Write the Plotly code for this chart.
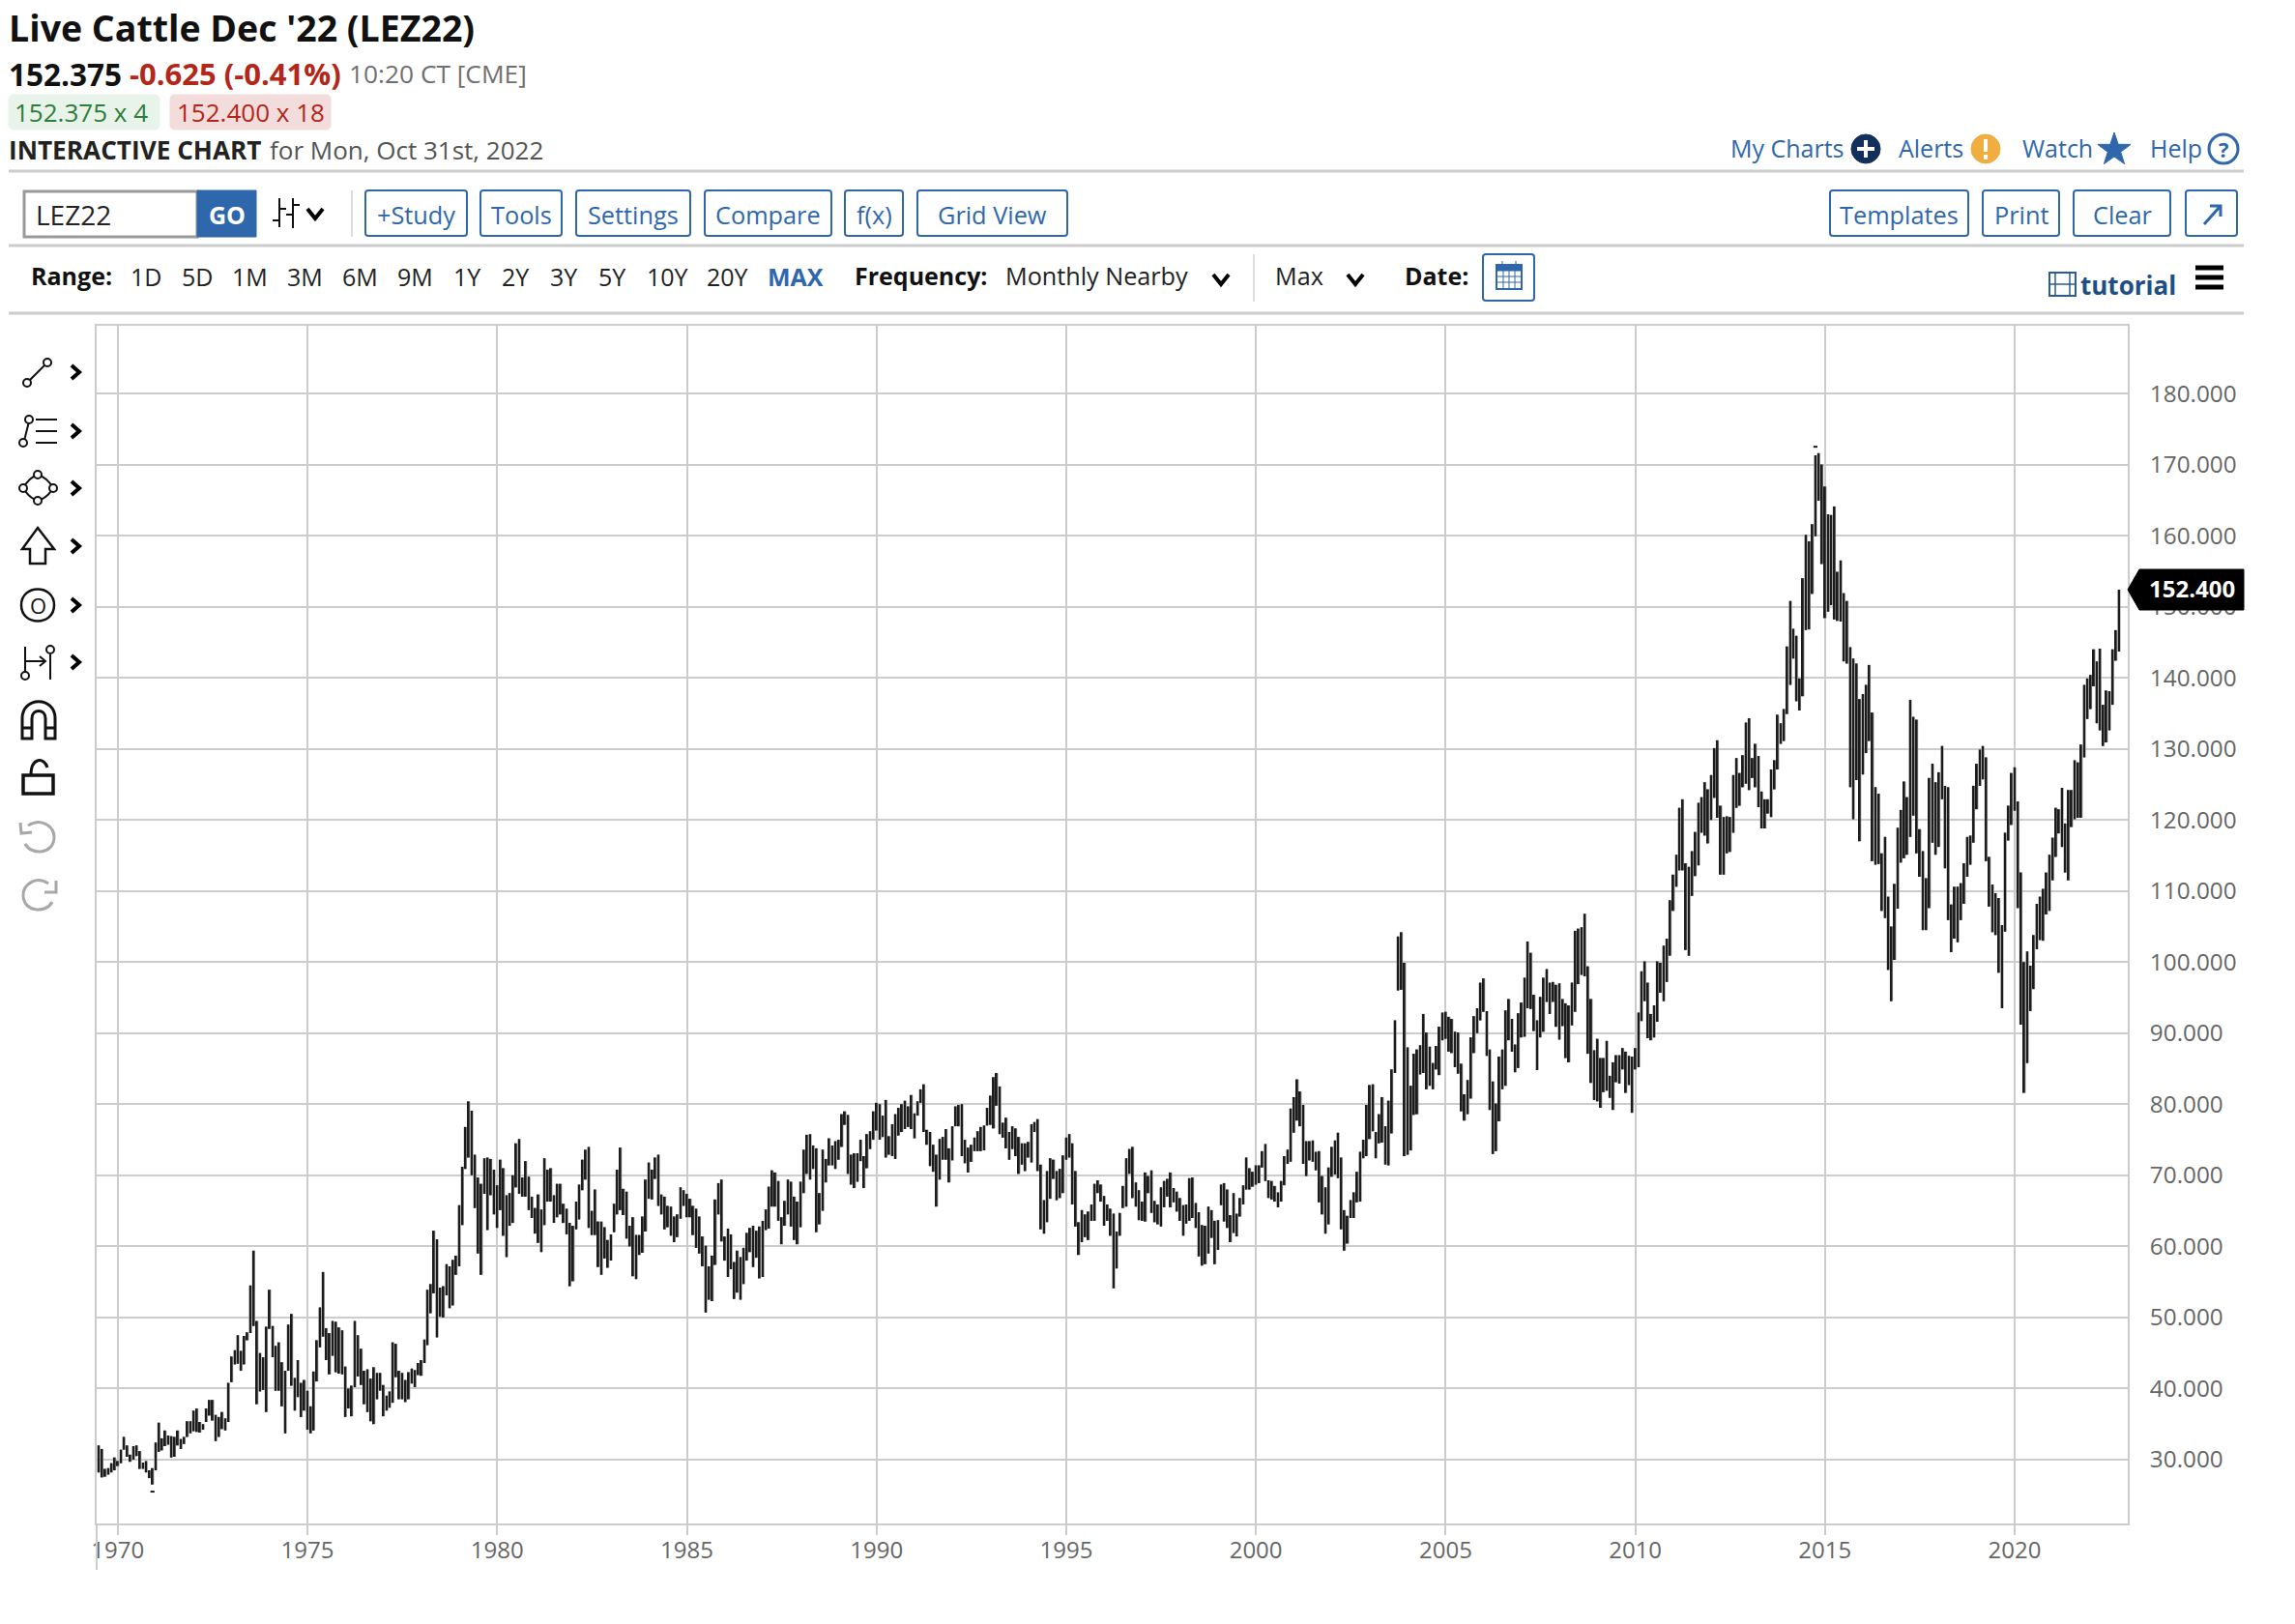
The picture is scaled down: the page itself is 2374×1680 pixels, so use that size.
"""Live Cattle monthly nearby chart with the barchart style page chrome around it."""

import math

import pandas as pd
import plotly.graph_objects as go

# === data (monthly high / low) ===
START_MONTH = '1969-07-01'

HIGHS = [
    32, 31.5, 28.7, 28.8, 29.5, 30.3, 29.8, 31.4, 33.2, 32, 30.7, 31.9,
    32, 31.2, 29.6, 29.8, 28.5, 28.8, 32.4, 35.2, 33, 34.1, 33.4, 33.3,
    33.2, 34.1, 32.9, 33.2, 35.4, 35.4, 36.9, 37.2, 35.3, 35, 37.2, 38.4,
    38.4, 36.3, 36, 36.7, 35.8, 40.8, 44.5, 45.4, 47.5, 45.3, 47.4, 47.9,
    54.5, 59.4, 49.5, 45, 44.4, 48.7, 53.9, 48.8, 46, 46.5, 43.7, 42.5,
    49, 50.5, 41.5, 44, 40.8, 41.2, 39.7, 37.5, 42.4, 46.8, 51.4, 56.4,
    48.5, 47.8, 49.5, 49.4, 48.6, 48.2, 43.1, 40, 40.4, 49.5, 47.5, 45.6,
    42.5, 42.7, 41.4, 43, 42.2, 42.2, 40.5, 39, 39.6, 46.5, 46.3, 42.5,
    42.2, 41.2, 42.3, 42.8, 42.6, 43.6, 44, 46.9, 53.9, 54.7, 62.2, 61,
    54.2, 54.4, 57.5, 57.2, 58.1, 58.7,
    65.8, 71.2, 76.8, 80.4, 79.1,
    72.9, 69.7, 68.8, 72.4, 72.5, 72.3, 70.8, 68.6, 72.2, 71, 67.2, 67.5,
    70, 74.5, 75.1, 69.7, 72, 69.8, 67, 65.4, 67.3, 65.2, 72.4, 70.8,
    71, 67.2, 68.8, 68.8, 66, 65.3, 63.3, 62.9, 66.3, 68.7, 72.2, 73.6,
    74, 65, 68, 63.5, 63.5, 62.7, 60.9, 61.7, 66, 70.8, 73.9, 68.1,
    67.7, 62.9, 64.1, 61.6, 61.6, 64.2, 69.4, 71.8, 70.8, 72.5, 72.9, 67.3,
    67, 65.7, 65.6, 64.2, 64.5, 68.3, 67.9, 67.4, 66.7, 65.7, 65.3, 64.2,
    61.4, 60.1, 57.2, 58.7, 66.6, 68.9, 69.4, 61.4, 62.5, 61.7, 57.8, 59.4,
    58.5, 59.8, 61.9, 62.6, 62.9,
    62.2, 62.8, 63.6, 65.2, 68.4, 70.7, 70.4, 69.2, 64.1, 66.4, 69.4, 69.1,
    67, 66.3, 69.1, 73.6, 75.7, 75.8, 74.2, 73.8, 67.5, 73.6, 72.3, 75.2,
    74.2, 74.8, 75, 78.6, 79, 78.5, 72.9, 73.1, 73.1, 75, 72.7, 75.8,
    76.2, 79, 80.2, 80, 78.4, 80.6, 75.5, 77.2, 78.6, 79.5, 80, 80.5,
    79.7, 81.3, 78.7, 80.4, 82.1, 82.8, 76.4, 76.1, 74.3, 72.9, 75.1, 75.4,
    76.5, 73.8, 76.9, 79.7, 79.9, 80, 75, 73.9, 74.3, 75.3, 76.2, 76.8,
    77, 79.5, 81.2, 83.8, 84.4, 82.5, 77.4, 78.1, 76.1, 76.9, 76.6, 75.4,
    74.5, 74.5, 74.7, 77.2, 77.5, 77.9, 71.5, 66.5, 70.6, 72.4, 72.2, 70.6,
    70.9, 72.8, 75.3, 75.8, 74.5, 70.6, 63.4, 65.1, 64.5, 64.9, 65.9, 68.8,
    69.3, 68.7, 67.1, 65.9, 65.3, 64.6, 62.1, 64.7, 68.5, 72.4, 73.7, 74,
    69, 67.9, 66.3, 70.4, 69.9, 70.7, 66.4, 65.9,
    68.3, 69.2, 69.5, 70.4, 68.2, 67.7, 66.8, 65.8, 65.9, 69.6, 69.7, 66.1,
    64.8, 63, 62.9, 65.6, 65.1, 63.6, 63.7, 68.7, 68.9, 68, 64.4, 67.5,
    64.6, 66.8, 68.6, 72.5, 71, 70.5, 71.4, 71.4, 73.4, 74.4, 69.3, 69.2,
    68.5, 67.6, 69.2, 72.7, 73.6, 79.4, 81, 83.5, 81.8, 79.9, 74.8, 74.8,
    74.9, 73.3, 73.4, 69.9, 68.3, 71.1, 74, 74.9, 76, 72.5, 65.1, 64.3,
    66.5, 67.6, 70.5, 73.3, 75, 79.9, 82.7, 82.8, 76.1, 78.6, 81, 76.9,
    80.5, 84.9,
    91.8, 103.6, 104.2, 99.9, 88, 82.6, 87.1, 87.7, 88.3, 92.7, 90.1, 88.1,
    85.8, 88.2, 90.9, 92.9, 93, 92.3, 92, 90.2, 90.1, 85.7, 81.4, 83.4,
    89.4, 92.4, 93.5, 97.1, 97.7, 93.1, 87.7, 83.2, 80.1, 86.7, 87.7, 93.2,
    94.8, 92, 88.4, 92.8, 94.3, 97.8, 102.9, 101.3, 95.4, 91.8, 95.1, 97.8,
    99, 97.1, 97.2, 96.8, 97, 94.8, 94.2, 93.9, 97.1, 104.4, 104.7, 104.9,
    106.8, 99.4, 94.8, 87.6, 89.2, 86.5, 86.5, 88.9, 84, 85.9, 86.9, 86.9,
    87.9, 87.4, 86.8, 86.7, 87.9, 92.9, 98.7, 100.1, 97.1, 92.7, 93.9, 100.1,
    99.9, 102.3, 103.3, 108.7,
    112.3, 115.1, 121.7, 122.9, 113.9, 113.4, 115.6, 118.3, 122.4, 123.2, 125.3, 124.3,
    126.3, 130.1, 131.2, 122, 120.4, 120.5, 120.4, 126.3, 128.7, 126.6, 129.1, 133.7,
    134.3, 128.7, 130.7, 129, 124, 122.9, 122.9, 127.1, 128.4, 134.8, 133.6, 135.6,
    144.4, 150.8, 146.9, 145.9, 139.9, 154, 160.1, 159.2, 161.6, 171.3, 171.6, 170,
    166.9, 163, 162.9, 164.1, 154.9, 156.5, 151.9, 150.8, 144.3, 142.7, 142, 137,
    137.7, 139, 141.8, 135.1, 124.6, 123.7, 115.3, 117.6, 109.2, 105, 111, 118.9,
    121.4, 125.4, 123.2, 136.9, 134.5, 134.1, 118.7, 115.6, 111.8, 125.9, 127.9, 125.3,
    126.7, 130.4, 124.8, 124.6, 108.1, 110.6, 110.6, 111.1, 113.9, 117.6, 117.8, 124.8,
    127.9, 129.9, 130.4, 128.8, 114.8, 110.9, 109.7, 109, 105.2, 118.2, 122, 126.6,
    127.4, 122.6, 112.6, 100, 101.5, 99.5, 103.8, 108.2, 109.2, 110.3, 112.6, 115.1,
    117.5, 121.7, 121.5, 124.5, 119.5, 124.2, 124.2, 128.4, 128.1, 130.6, 139, 139.9,
    140.4, 144, 142.3, 144.1, 136.2, 138.2, 138.1, 144, 146.7, 152.4,
]

LOWS = [
    28.2, 27.5, 27.6, 27.9, 28.2, 28.5, 29.1, 29.5, 31.4, 30.4, 29.7, 30,
    30.5, 28.7, 28.7, 28.2, 27.4, 26.5, 28.5, 31.1, 31.3, 31.9, 32.1, 30.3,
    30.4, 32, 31.5, 32.2, 33.2, 33.7, 34, 33.9, 33.8, 34.2, 35.3, 36.2,
    35.5, 32.6, 33.2, 34.3, 34.1, 35.3, 40.9, 43.4, 43.5, 42.5, 43.4, 46.8,
    47.8, 48.8, 37.8, 39.6, 39.8, 36.7, 48.4, 44.4, 39.7, 39.7, 37.5, 33.7,
    42.5, 40.4, 36.9, 38.8, 36, 36.9, 34.2, 33.7, 34.1, 41, 45.8, 47.3,
    44, 42, 44.6, 42.3, 42.1, 42, 36, 37.2, 36.1, 40.2, 41.7, 40.5,
    37.8, 36.7, 35.4, 35, 38.5, 39.7, 36.1, 36.9, 37.3, 38, 41.6, 38.5,
    38.5, 38.1, 38.5, 40.7, 40.2, 41.9, 41.8, 43.6, 46.1, 50.6, 53.4, 47.2,
    50.1, 50, 53.1, 51.3, 51.7, 56,
    57.2, 63, 70.9, 72.5, 70,
    65.4, 59, 56, 67.4, 62.3, 67.2, 64.5, 62.6, 65.1, 61.5, 58.5, 62.9,
    63.3, 68.3, 67.4, 67, 67, 65.1, 64, 61.8, 60.5, 59.2, 63, 66.3,
    66.3, 63.3, 64.1, 64.5, 63.3, 61.7, 54.4, 55.1, 62.4, 63.8, 67.9, 69.4,
    62.6, 61.6, 61.6, 57.1, 56, 58.3, 57, 58, 62, 64.5, 65.1, 64.4,
    61.1, 60, 55.8, 55.4, 58.8, 59.1, 62.1, 66.7, 66.6, 69.5, 65.7, 64.5,
    62.4, 62.7, 61.5, 60.6, 61.3, 63.9, 65.7, 64.1, 64.1, 61.6, 59.8, 59,
    57.2, 50.7, 52.5, 52.3, 57.4, 64.5, 60.7, 58, 55.7, 56.8, 52.6, 53.5,
    52.5, 54.7, 58, 59.2, 57.1,
    58.4, 55.5, 55.7, 62.3, 62.5, 65.6, 65.6, 63.6, 60.3, 62.9, 64.5, 62.8,
    60.9, 60.3, 62.7, 67.5, 70.2, 69.4, 70.9, 62, 63.1, 65, 69, 71.4,
    71.4, 70.9, 72.2, 74, 77.1, 70.2, 68.7, 68.2, 69.1, 72, 68.2, 71,
    73.7, 75, 76.3, 75, 75.4, 72.5, 72.9, 72.7, 72.3, 75.6, 76.1, 76.5,
    76.8, 76.5, 75.2, 78.4, 80.2, 76.1, 74.3, 71.3, 70.5, 65.6, 69.4, 72.2,
    72.2, 69, 72.1, 76.9, 76.9, 72.7, 71.7, 70.4, 71.9, 73.4, 73.4, 73.4,
    73.5, 77, 77.1, 76.6, 79.8, 75.8, 75.3, 73.8, 72.2, 73.7, 72.7, 70.2,
    71.5, 70.6, 72.5, 71.8, 76.1, 70.6, 62.4, 61.8, 63.4, 66.7, 69.5, 66.5,
    66.8, 67.5, 72.2, 72.5, 65.9, 62.8, 58.8, 60.6, 61.3, 60.9, 63.6, 63.6,
    67.5, 66.3, 62.9, 63.6, 61.5, 54.1, 56.9, 61.5, 65.4, 65.6, 70.2, 66.8,
    65.6, 63.7, 63.6, 63.5, 67.5, 64.7, 63.4, 63.1,
    62.8, 65.5, 67, 65.5, 66.2, 64.9, 63.6, 61.5, 63.2, 63.6, 64, 62.6,
    58.6, 57.3, 57.5, 59, 61.2, 57.5, 59.5, 65.8, 63.5, 62.6, 60.6, 61.9,
    61.4, 64.2, 65.9, 68, 68, 68.4, 68.7, 68.9, 71.1, 69.2, 66.8, 66.6,
    66.3, 65.5, 66.3, 68.6, 71.6, 71.9, 76, 77.7, 76.9, 71.6, 69.9, 72.1,
    71.9, 70.7, 66.2, 64.5, 61.8, 63.1, 69.8, 70.1, 69.6, 62.4, 59.4, 60.4,
    64, 64, 66.2, 66.3, 72.4, 72.7, 75.1, 76.2, 72.4, 74.5, 74.6, 71.5,
    71.4, 75.9,
    84.4, 96, 96.1, 72.7, 72.9, 73.5, 78.5, 78.6, 84.2, 84.4, 82.1, 82.6,
    82.1, 84.9, 84.1, 89, 89.2, 87.4, 87.2, 85.2, 84.3, 79, 77.7, 78.6,
    80.8, 87.2, 90, 91.8, 93, 86.8, 79.2, 73, 73.4, 77.6, 82.1, 82.6,
    89, 87.4, 84.5, 85.1, 89.4, 89.5, 93.5, 93.4, 90.3, 84.8, 89.4, 90.2,
    94.4, 92.7, 94.4, 90.9, 89.1, 91, 86.5, 85.9, 91.1, 93, 96.9, 98.2,
    98, 87.1, 83, 80.6, 80.4, 79.5, 81.7, 81.9, 80.9, 79.2, 83.1, 82.9,
    84.9, 81.6, 82.7, 78.8, 84.9, 85.2, 91.7, 94.5, 89.3, 89, 89.4, 91.6,
    95.7, 94.5, 97.2, 100.9,
    107.2, 110.6, 112.9, 112.9, 101.7, 100.9, 109.3, 112.1, 113.6, 118.2, 117.8, 116.7,
    120, 123.1, 120.3, 112.3, 112.3, 115.3, 115.5, 118.2, 121.7, 122, 124.6, 125.1,
    124.2, 125.9, 124.6, 121.8, 118.8, 118.8, 120.9, 120.4, 124.3, 127.1, 130.7, 131.1,
    134.9, 139, 142.7, 136.7, 135.4, 137.4, 146.7, 146.8, 151.8, 159.9, 164.9, 156,
    148.4, 149.3, 150.2, 148.2, 148, 147.9, 142.3, 142, 124.6, 120.1, 125.6, 117,
    126.4, 129.4, 131.1, 114.2, 113.7, 113.8, 107.2, 106.2, 98.9, 94.5, 100.3, 107.5,
    114, 114.6, 115.1, 117.6, 120.6, 115.3, 112, 104.5, 104.5, 107.6, 116.8, 115.1,
    116.2, 122.9, 113.2, 105.9, 101.4, 103.3, 102.8, 105.9, 108.2, 112, 113.7, 116.8,
    121.5, 124.8, 125.7, 114.2, 107.8, 104.2, 103.8, 98.5, 93.5, 104.3, 117.1, 119.3,
    121.3, 107.6, 91.2, 81.6, 85.8, 93.1, 96.2, 101.8, 103.1, 103, 106.7, 107.2,
    111.5, 114.8, 118.1, 116.2, 112.6, 111.5, 119, 120.1, 120.3, 120.3, 128.8, 134.2,
    135.6, 138.8, 133.6, 132.6, 130.4, 130.9, 132.6, 136.2, 142.4, 143.7,
]

# the two stray ticks sitting off the bars (all time low and high)
EXTREME_DATES = ['1970-12-01', '2014-10-01']
EXTREME_VALUES = [25.5, 172.5]

Y_TICKS = list(range(30, 190, 10))

RANGE_LABELS = ['1D', '5D', '1M', '3M', '6M', '9M', '1Y', '2Y', '3Y', '5Y', '10Y', '20Y']
RANGE_CENTERS = [151, 204, 258, 315, 372, 429, 483, 533, 583, 633, 690, 752]

# label, left, right
LEFT_BUTTONS = [('+Study', 378, 483), ('Tools', 497, 581), ('Settings', 596, 714),
                ('Compare', 729, 860), ('f(x)', 874, 934), ('Grid View', 949, 1104)]
RIGHT_BUTTONS = [('Templates', 1893, 2036), ('Print', 2051, 2130), ('Clear', 2145, 2245)]

# === style ===
COLORS = {
    'bar': '#1c1c1c',
    'bar_fill': '#8c8c8c',   # grey that shows where neighbouring bars touch
    'grid': '#cccccc',
    'axis_text': '#666666',
    'blue': '#2f67ad',
    'navy': '#12305a',
    'red': '#b3261a',
    'green': '#2e7d3a',
    'grey_text': '#6f6f6f',
    'tool_grey': '#a8a8a8',
}
FONT = 'Open Sans'

WIDTH, HEIGHT = 2374, 1680
PLOT_LEFT, PLOT_RIGHT = 100, 2201
PLOT_TOP, PLOT_BOTTOM = 337, 1576

shapes = []
annotations = []


def fx(x):
    return (x - PLOT_LEFT) / (PLOT_RIGHT - PLOT_LEFT)


def fy(y):
    return 1 - (y - PLOT_TOP) / (PLOT_BOTTOM - PLOT_TOP)


def label(x, y, text, size=24, color='#222222', anchor='left'):
    annotations.append(dict(
        x=fx(x), y=fy(y), xref='paper', yref='paper', text=text, showarrow=False,
        xanchor=anchor, yanchor='middle', borderpad=0, borderwidth=0,
        font=dict(family=FONT, size=size, color=color),
    ))


def path(d, color='#000000', width=2, fill=None):
    """d holds page pixel tokens: a letter followed by x,y pairs."""
    out = []
    for part in d.split():
        if ',' in part:
            x, y = part.split(',')
            out.append(f'{fx(float(x)):.6f},{fy(float(y)):.6f}')
        else:
            out.append(part)
    shapes.append(dict(
        type='path', path=' '.join(out), xref='paper', yref='paper',
        line=dict(color=color, width=width),
        fillcolor=fill if fill else 'rgba(0,0,0,0)',
    ))


def box(x0, y0, x1, y1, color='#000000', width=2, fill=None):
    shapes.append(dict(
        type='rect', xref='paper', yref='paper',
        x0=fx(x0), x1=fx(x1), y0=fy(y0), y1=fy(y1),
        line=dict(color=color, width=width),
        fillcolor=fill if fill else 'rgba(0,0,0,0)',
    ))


def round_box(x0, y0, x1, y1, color, fill=None, width=2, r=5):
    path(f'M {x0 + r},{y0} L {x1 - r},{y0} Q {x1},{y0} {x1},{y0 + r} L {x1},{y1 - r} '
         f'Q {x1},{y1} {x1 - r},{y1} L {x0 + r},{y1} Q {x0},{y1} {x0},{y1 - r} '
         f'L {x0},{y0 + r} Q {x0},{y0} {x0 + r},{y0} Z', color, width, fill)


def circle(cx, cy, r, color='#000000', width=2, fill=None):
    shapes.append(dict(
        type='circle', xref='paper', yref='paper',
        x0=fx(cx - r), x1=fx(cx + r), y0=fy(cy - r), y1=fy(cy + r),
        line=dict(color=color, width=width),
        fillcolor=fill if fill else 'rgba(255,255,255,1)',
    ))


def hline(y, x0=9, x1=2321):
    path(f'M {x0},{y} L {x1},{y}', COLORS['grid'], 3)


def chevron_down(cx, cy):
    path(f'M {cx - 8},{cy - 5} L {cx},{cy + 5} L {cx + 8},{cy - 5}', '#000000', 4)


def chevron_right(cx, cy):
    path(f'M {cx - 4},{cy - 7} L {cx + 4},{cy} L {cx - 4},{cy + 7}', '#000000', 4)


def add_header():
    label(9, 28, "<b>Live Cattle Dec '22 (LEZ22)</b>", 37.5, '#111111')
    label(9, 76, '<b>152.375</b>', 31.5, '#111111')
    label(134, 76, '<b>-0.625 (-0.41%)</b>', 31, COLORS['red'])
    label(361, 76, '10:20 CT [CME]', 26.3, COLORS['grey_text'])

    round_box(9, 98, 165, 134, '#e8f3ea', '#e8f3ea', 1)
    label(15, 116, '152.375 x 4', 26, COLORS['green'])
    round_box(176, 98, 342, 134, '#f3dcdc', '#f3dcdc', 1)
    label(183, 116, '152.400 x 18', 26, COLORS['red'])

    label(9, 155, '<b>INTERACTIVE CHART</b>', 26.2, '#222222')
    label(279, 155, 'for Mon, Oct 31st, 2022', 26, '#555555')

    # top right links
    label(1790, 153, 'My Charts', 25, COLORS['blue'])
    circle(1930, 154, 15, COLORS['navy'], 1, COLORS['navy'])
    path('M 1930,145 L 1930,163 M 1921,154 L 1939,154', '#ffffff', 4)
    label(1964, 153, 'Alerts', 25, COLORS['blue'])
    circle(2054, 154, 15, '#f0ad40', 1, '#f0ad40')
    path('M 2054,144 L 2054,157 M 2054,160 L 2054,165', '#ffffff', 4)
    label(2092, 153, 'Watch', 25, COLORS['blue'])
    star = []
    for i in range(10):
        r = 18 if i % 2 == 0 else 7
        a = -math.pi / 2 + i * math.pi / 5
        star.append(f'{2187 + r * math.cos(a):.1f},{155 + r * math.sin(a):.1f}')
    path('M ' + ' L '.join(star) + ' Z', COLORS['blue'], 1, COLORS['blue'])
    label(2224, 153, 'Help', 25, COLORS['blue'])
    circle(2300, 154, 15, COLORS['blue'], 3)
    label(2300, 154, '<b>?</b>', 22, COLORS['blue'], 'center')


def add_toolbar():
    hline(177)
    box(25, 198, 204, 245, '#9a9a9a', 3)
    label(37, 222, 'LEZ22', 28, '#222222')
    box(204, 197, 265, 245, COLORS['blue'], 1, COLORS['blue'])
    label(235, 222, '<b>GO</b>', 25, '#ffffff', 'center')

    # bar style picker
    path('M 289,205 L 289,235 M 303,205 L 303,236 M 282,228 L 289,228 M 289,216 L 296,216 '
         'M 296,222 L 303,222 M 303,212 L 310,212', '#111111', 2)
    chevron_down(326, 221)
    path('M 364,197 L 364,245', '#dddddd', 2)

    for name, x0, x1 in LEFT_BUTTONS + RIGHT_BUTTONS:
        round_box(x0, 197, x1, 244, COLORS['blue'], None, 2, 3)
        label((x0 + x1) / 2, 222, name, 25.3, COLORS['blue'], 'center')
    round_box(2261, 197, 2314, 244, COLORS['blue'], None, 2, 3)
    path('M 2280,232 L 2296,214 M 2286,213 L 2297,213 L 2297,224', COLORS['blue'], 3)
    hline(254)


def add_range_row():
    label(32, 285, '<b>Range:</b>', 25, '#111111')
    for name, cx in zip(RANGE_LABELS, RANGE_CENTERS):
        label(cx, 286, name, 25, '#222222', 'center')
    label(823, 286, '<b>MAX</b>', 25, COLORS['blue'], 'center')
    label(884, 285, '<b>Frequency:</b>', 25, '#111111')
    label(1040, 285, 'Monthly Nearby', 25.2, '#222222')
    chevron_down(1263, 289)
    path('M 1297,263 L 1297,312', '#dddddd', 2)
    label(1319, 285, 'Max', 25.2, '#222222')
    chevron_down(1402, 289)
    label(1453, 285, '<b>Date:</b>', 25, '#111111')

    round_box(1534, 263, 1587, 311, COLORS['blue'], None, 2, 3)
    box(1548, 274, 1574, 299, COLORS['blue'], 2)
    box(1548, 274, 1574, 280, COLORS['blue'], 1, COLORS['blue'])
    path('M 1554,270 L 1554,277 M 1568,270 L 1568,277 M 1548,286 L 1574,286 M 1548,292 L 1574,292 '
         'M 1555,280 L 1555,299 M 1561,280 L 1561,299 M 1567,280 L 1567,299', COLORS['blue'], 1)

    box(2120, 282, 2147, 306, '#2b5c94', 2)
    path('M 2126,282 L 2126,306 M 2141,282 L 2141,306 M 2120,294 L 2147,294', '#2b5c94', 1.5)
    label(2152, 295, '<b>tutorial</b>', 26, '#1d4f85')
    for y in (277, 287, 297):
        path(f'M 2271,{y} L 2300,{y}', '#000000', 5)
    hline(324)


def add_tool_icons():
    black = '#111111'
    for y in (385, 446, 505, 565, 626, 685):
        chevron_right(78, y)

    # line
    path('M 31,393 L 46,378', black, 2)
    circle(28, 396, 4, black)
    circle(49, 375, 4, black)
    # fibonacci
    path('M 25,456 L 30,436 M 37,434 L 59,434 M 37,446 L 59,446 M 37,458 L 59,458', black, 2)
    circle(24, 458, 4, black)
    circle(30, 434, 4, black)
    # polygon
    path('M 24,505 Q 30,494 39,491 Q 49,494 55,505 Q 49,515 39,518 Q 30,515 24,505 Z', black, 2)
    for cx, cy in ((24, 505), (39, 491), (55, 505), (39, 518)):
        circle(cx, cy, 4, black)
    # arrow
    path('M 39,546 L 56,568 L 47,568 L 47,583 L 31,583 L 31,568 L 23,568 Z', black, 2.5)
    # circled zero
    path('M 22,626 C 22,604 56,604 56,626 C 56,648 22,648 22,626 Z', black, 2.5)
    label(39, 626, 'O', 22, black, 'center')
    # measure
    path('M 26,669 L 26,695 M 26,684 L 47,684 M 41,679 L 47,684 L 41,689 M 52,677 L 52,703', black, 2)
    circle(26, 699, 4, black)
    circle(52, 672, 4, black)
    # magnet
    path('M 23,764 L 23,743 C 23,720 57,720 57,743 L 57,764 L 47,764 L 47,743 '
         'C 47,733 33,733 33,743 L 33,764 Z M 23,753 L 33,753 M 47,753 L 57,753', black, 3)
    # lock
    box(24, 802, 55, 821, black, 3.5)
    path('M 32,802 C 32,783 46,783 49,794', black, 3)
    # undo and redo
    grey = COLORS['tool_grey']
    path('M 29,854 C 44,845 56,856 56,866 C 56,884 32,885 26,873 M 21,851 L 22,862 L 33,861', grey, 3)
    path('M 50,914 C 36,905 24,916 24,926 C 24,944 48,945 54,933 M 58,911 L 58,923 L 46,923', grey, 3)


def add_price_tag():
    path('M 2201,610 L 2213,589 L 2321,589 L 2321,631 L 2213,631 Z', '#000000', 1, '#000000')
    label(2267, 608, '<b>152.400</b>', 24, '#ffffff', 'center')


def build_figure():
    dates = pd.date_range(START_MONTH, periods=len(HIGHS), freq='MS')
    spans = [round(h - l, 3) for h, l in zip(HIGHS, LOWS)]

    fig = go.Figure()
    # grey under layer, one month wide, then the dark bar on top
    fig.add_trace(go.Bar(
        x=dates, y=spans, base=LOWS,
        width=2.6e9,
        marker=dict(color=COLORS['bar_fill'], line=dict(width=0)),
        showlegend=False, hoverinfo='skip',
    ))
    fig.add_trace(go.Bar(
        x=dates, y=spans, base=LOWS,
        width=1.4e9,
        marker=dict(color=COLORS['bar'], line=dict(width=0)),
        showlegend=False, hoverinfo='skip',
    ))
    fig.add_trace(go.Scatter(
        x=EXTREME_DATES, y=EXTREME_VALUES, mode='markers',
        marker=dict(symbol='line-ew', size=3, line=dict(color=COLORS['bar'], width=2)),
        showlegend=False, hoverinfo='skip',
    ))

    add_header()
    add_toolbar()
    add_range_row()
    add_tool_icons()
    # axis line carries on below the plot
    path(f'M {PLOT_LEFT},{PLOT_BOTTOM} L {PLOT_LEFT},1624', COLORS['grid'], 2)
    add_price_tag()

    fig.update_layout(
        width=WIDTH, height=HEIGHT,
        margin=dict(l=PLOT_LEFT, r=WIDTH - PLOT_RIGHT, t=PLOT_TOP, b=HEIGHT - PLOT_BOTTOM, pad=0),
        paper_bgcolor='#ffffff', plot_bgcolor='#ffffff',
        barmode='overlay',
        font=dict(family=FONT, color=COLORS['axis_text'], size=24),
        xaxis=dict(
            type='date',
            range=['1969-06-12', '2022-12-25'],
            tick0='1970-01-01', dtick='M60', tickformat='%Y',
            showgrid=True, gridcolor=COLORS['grid'], gridwidth=2,
            ticks='outside', ticklen=10, tickwidth=2, tickcolor=COLORS['grid'],
            ticklabelstandoff=-5,
            showline=True, linecolor=COLORS['grid'], linewidth=2, mirror=True,
            tickfont=dict(family=FONT, size=24, color=COLORS['axis_text']),
            zeroline=False,
        ),
        yaxis=dict(
            side='right',
            range=[21.02, 189.52],
            tickmode='array', tickvals=Y_TICKS,
            ticktext=[f'{v:.3f}' for v in Y_TICKS],
            showgrid=True, gridcolor=COLORS['grid'], gridwidth=2,
            showline=True, linecolor=COLORS['grid'], linewidth=2, mirror=True,
            ticks='', ticklabelstandoff=16,
            tickfont=dict(family=FONT, size=24.3, color=COLORS['axis_text']),
            zeroline=False,
        ),
        shapes=shapes,
        annotations=annotations,
        hovermode=False,
    )
    return fig


fig = build_figure()
fig.write_html("out.html", post_script="document.body.style.margin='0';", config={'displayModeBar': False})
